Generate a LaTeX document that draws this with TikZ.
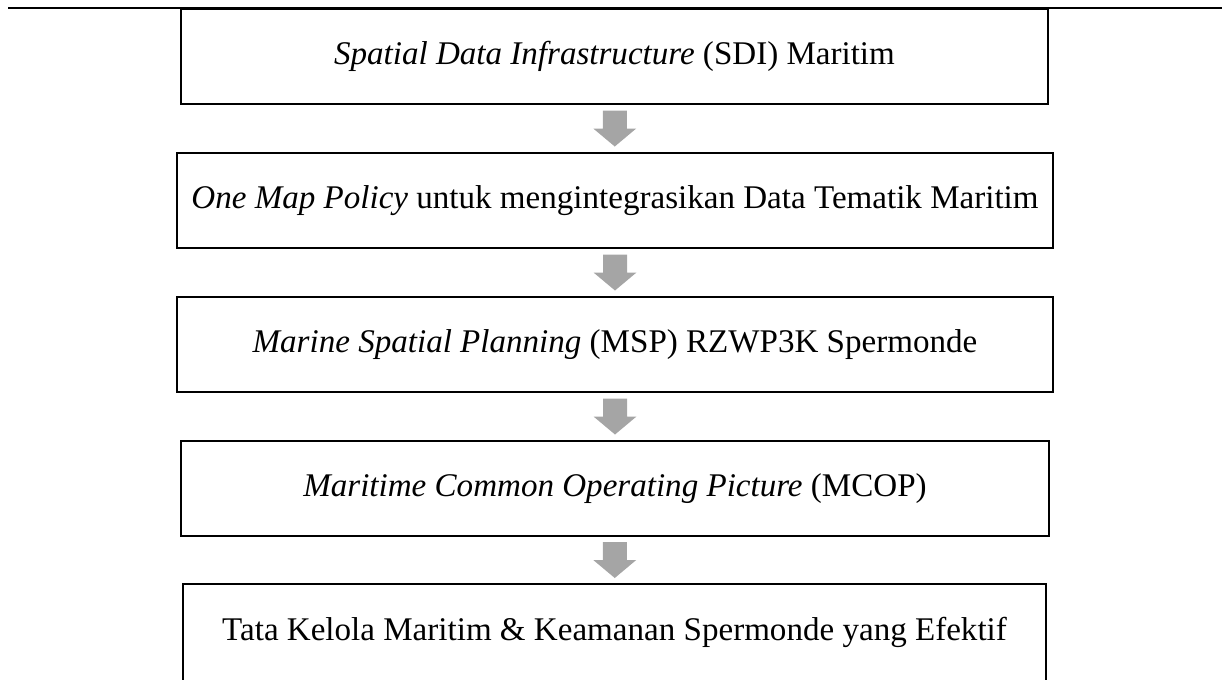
\documentclass[tikz,border=0pt]{standalone}
\usepackage{fontspec}
\setmainfont{Liberation Serif}
\usetikzlibrary{calc}
\definecolor{panahabu}{RGB}{165,165,165}

\begin{document}
\begin{tikzpicture}[x=0.75pt,y=-0.75pt,
    kotak/.style={draw, line width=1.5pt, minimum height=71.25pt, inner sep=0pt,
        font=\fontsize{24.8}{29}\selectfont},
    panah/.style={fill=panahabu}]
    % Batas
    \useasboundingbox (0,0) rectangle (1222,679);
    % Garis atas
    \coordinate (garisKiri) at (8,8);
    \coordinate (garisKanan) at (1222,8);
    \draw[line width=1.8pt] (garisKiri) -- (garisKanan);
    % Kotak
    \node[kotak, minimum width=650.25pt] (sdi) at (614.5,56.5)
        {\textit{Spatial Data Infrastructure} (SDI) Maritim};
    \node[kotak, minimum width=657pt] (omp) at (615,200.5)
        {\textit{One Map Policy} untuk mengintegrasikan Data Tematik Maritim};
    \node[kotak, minimum width=657pt] (msp) at (615,344.5)
        {\textit{Marine Spatial Planning} (MSP) RZWP3K Spermonde};
    \node[kotak, minimum width=651pt] (mcop) at (615,488.5)
        {\textit{Maritime Common Operating Picture} (MCOP)};
    \node[kotak, minimum width=647.25pt, minimum height=72.75pt] (tata) at (614.5,632.5)
        {Tata Kelola Maritim \& Keamanan Spermonde yang Efektif};
    % Panah
    \foreach \a/\b in {sdi/omp,omp/msp,msp/mcop,mcop/tata} {
        \fill[panah] ($(\a.south)!0.5!(\b.north)$) ++(-12,-18) -- ++(24,0) -- ++(0,18)
            -- ++(9.5,0) -- ++(-21.5,18) -- ++(-21.5,-18) -- ++(9.5,0) -- cycle;
    }
\end{tikzpicture}
\end{document}
